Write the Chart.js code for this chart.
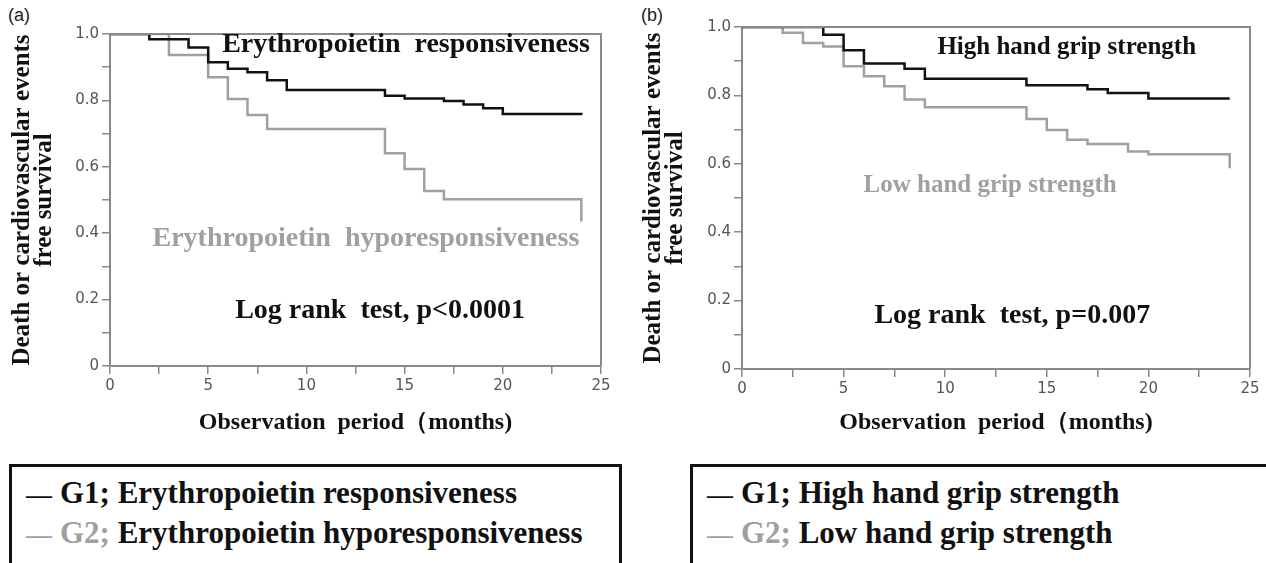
<!DOCTYPE html>
<html>
<head>
<meta charset="utf-8">
<script src="https://cdn.jsdelivr.net/npm/chart.js@4.4.1/dist/chart.umd.min.js"></script>
<style>
  body { margin: 0; width: 1266px; height: 563px; overflow: hidden; background: #fff; position: relative; }
  .tag { position: absolute; top: 5px; font: 18px "Liberation Sans", Arial, sans-serif; color: #222; }
  canvas { position: absolute; top: 0; }
  .legend {
    position: absolute; top: 464px; height: 120px;
    border: 3px solid #111; border-bottom: none;
    box-sizing: border-box; padding: 7px 0 0 14px;
    font: bold 31px "Liberation Serif", "Times New Roman", serif;
    line-height: 38px; color: #111; white-space: nowrap;
  }
  .legend .dash { font-size: 26px; margin-right: 8px; }
  .legend .grey { color: #a0a0a0; }
</style>
</head>
<body>

<div class="tag" style="left:8px">(a)</div>
<div class="tag" style="left:641px">(b)</div>

<canvas id="chart-a" width="625" height="440" style="left:0"></canvas>
<canvas id="chart-b" width="636" height="440" style="left:630px"></canvas>

<div class="legend" style="left:9px; width:613px">
  <div><span class="dash">—</span>G1; Erythropoietin responsiveness</div>
  <div><span class="grey"><span class="dash">—</span>G2;</span> Erythropoietin hyporesponsiveness</div>
</div>
<div class="legend" style="left:690px; width:600px">
  <div><span class="dash">—</span>G1; High hand grip strength</div>
  <div><span class="grey"><span class="dash">—</span>G2;</span> Low hand grip strength</div>
</div>

<script>
// Kaplan-Meier curves (months, survival)
const monthsA1 = [0, 2, 4, 5, 6, 7, 8, 9, 14, 15, 17, 18, 19, 20, 24];
const survA1 = [1.0, 0.984, 0.959, 0.915, 0.895, 0.885, 0.861, 0.831, 0.814, 0.806, 0.798, 0.788, 0.776, 0.759, 0.756];
const monthsA2 = [0, 3, 5, 6, 7, 8, 14, 15, 16, 17, 24];
const survA2 = [1.0, 0.937, 0.870, 0.804, 0.756, 0.714, 0.641, 0.593, 0.527, 0.502, 0.435];

const monthsB1 = [0, 4, 5, 6, 8, 9, 14, 17, 18, 20, 24];
const survB1 = [1.0, 0.977, 0.932, 0.893, 0.878, 0.849, 0.830, 0.818, 0.807, 0.791, 0.791];
const monthsB2 = [0, 2, 3, 4, 5, 6, 7, 8, 9, 14, 15, 16, 17, 19, 20, 24];
const survB2 = [1.0, 0.983, 0.953, 0.943, 0.885, 0.856, 0.827, 0.788, 0.765, 0.731, 0.699, 0.670, 0.658, 0.636, 0.628, 0.587];

// Tick labels (every other tick is an unlabeled minor tick)
const xLabels = ['0', '5', '10', '15', '20', '25'];
const yLabels = ['0', '0.2', '0.4', '0.6', '0.8', '1.0'];

const black = '#111111';
const grey = '#a0a0a0';
const axisGrey = '#8a8a8a';
const serif = '"Liberation Serif", "Times New Roman", serif';

function toPoints(xs, ys) {
    return xs.map((x, i) => ({ x: x, y: ys[i] }));
}

// Text notes inside the plot + top/right frame
function notesPlugin(notes) {
    return {
        id: 'notes',
        afterDraw(chart) {
            const { ctx, chartArea, scales } = chart;
            ctx.save();
            ctx.strokeStyle = axisGrey;
            ctx.lineWidth = 2;
            ctx.beginPath();
            ctx.moveTo(chartArea.left, chartArea.top);
            ctx.lineTo(chartArea.right, chartArea.top);
            ctx.lineTo(chartArea.right, chartArea.bottom);
            ctx.stroke();

            ctx.textAlign = 'center';
            ctx.textBaseline = 'middle';
            notes.forEach(n => {
                ctx.font = 'bold ' + n.size + 'px ' + serif;
                ctx.fillStyle = n.color;
                ctx.fillText(n.text, scales.x.getPixelForValue(n.x), scales.y.getPixelForValue(n.y));
            });
            ctx.restore();
        }
    };
}

function makeChart(id, series, notes, layout) {
    const ctx = document.getElementById(id).getContext('2d');
    return new Chart(ctx, {
        type: 'line',
        data: {
            datasets: series.map(s => ({
                label: s.label,
                data: s.data,
                borderColor: s.color,
                borderWidth: 2.5,
                stepped: true,
                pointRadius: 0,
                fill: false
            }))
        },
        options: {
            responsive: false,
            animation: false,
            layout: { padding: { top: layout.top, right: layout.right, left: 0, bottom: 0 } },
            plugins: {
                legend: { display: false },
                tooltip: { enabled: false }
            },
            scales: {
                x: {
                    type: 'linear',
                    min: 0,
                    max: 25,
                    afterFit: scale => { scale.height = layout.xHeight; },
                    border: { color: axisGrey, width: 2 },
                    grid: { drawOnChartArea: false, tickLength: 8, tickColor: axisGrey, lineWidth: 1.5 },
                    ticks: {
                        stepSize: 2.5,
                        padding: 3,
                        color: '#555',
                        font: { family: '"DejaVu Sans", Verdana, sans-serif', size: 15 },
                        callback: (v, i) => (i % 2 === 0 ? xLabels[i / 2] : '')
                    },
                    title: {
                        display: true,
                        text: 'Observation  period（months)',
                        color: black,
                        font: { family: serif, size: 24, weight: 'bold', lineHeight: 1.2 },
                        padding: { top: 0, bottom: 3 }
                    }
                },
                y: {
                    min: 0,
                    max: 1,
                    afterFit: scale => { scale.width = layout.yWidth; },
                    border: { color: axisGrey, width: 2 },
                    grid: { drawOnChartArea: false, tickLength: 8, tickColor: axisGrey, lineWidth: 1.5 },
                    ticks: {
                        stepSize: 0.1,
                        padding: 3,
                        color: '#555',
                        font: { family: '"DejaVu Sans", Verdana, sans-serif', size: 15 },
                        callback: (v, i) => (i % 2 === 0 ? yLabels[i / 2] : '')
                    },
                    title: {
                        display: true,
                        text: ['Death or cardiovascular events', 'free survival'],
                        color: black,
                        font: { family: serif, size: 25, weight: 'bold', lineHeight: 0.88 },
                        padding: { top: layout.titlePad, bottom: 0 }
                    }
                }
            }
        },
        plugins: [notesPlugin(notes)]
    });
}

makeChart('chart-a', [
    { label: 'G1; Erythropoietin responsiveness', data: toPoints(monthsA1, survA1), color: black },
    { label: 'G2; Erythropoietin hyporesponsiveness', data: toPoints(monthsA2, survA2), color: grey }
], [
    { text: 'Erythropoietin  responsiveness', x: 15.07, y: 0.967, size: 28, color: black },
    { text: 'Erythropoietin  hyporesponsiveness', x: 13.03, y: 0.383, size: 28, color: grey },
    { text: 'Log rank  test, p<0.0001', x: 13.75, y: 0.166, size: 28, color: black }
], { top: 34, right: 24, xHeight: 74, yWidth: 110, titlePad: 12 });

makeChart('chart-b', [
    { label: 'G1; High hand grip strength', data: toPoints(monthsB1, survB1), color: black },
    { label: 'G2; Low hand grip strength', data: toPoints(monthsB2, survB2), color: grey }
], [
    { text: 'High hand grip strength', x: 15.98, y: 0.939, size: 25, color: black },
    { text: 'Low hand grip strength', x: 12.21, y: 0.535, size: 25, color: grey },
    { text: 'Log rank  test, p=0.007', x: 13.3, y: 0.155, size: 28, color: black }
], { top: 27, right: 16, xHeight: 71, yWidth: 112, titlePad: 13 });
</script>
</body>
</html>
